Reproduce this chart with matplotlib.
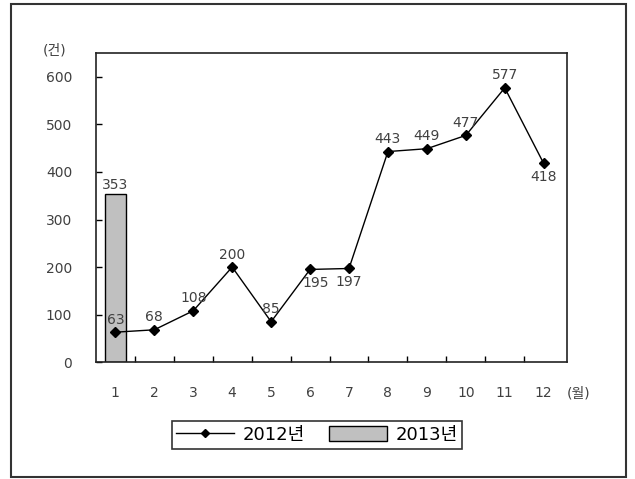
import matplotlib
matplotlib.use("Agg")
import matplotlib.pyplot as plt
from matplotlib.patches import Rectangle
from matplotlib.lines import Line2D
from matplotlib.patches import Patch

plt.rcParams["font.family"] = ["DejaVu Sans", "Noto Sans CJK KR"]

months = [1, 2, 3, 4, 5, 6, 7, 8, 9, 10, 11, 12]
month_labels = ["1", "2", "3", "4", "5", "6", "7", "8", "9", "10", "11", "12"]
counts_2012 = [63, 68, 108, 200, 85, 195, 197, 443, 449, 477, 577, 418]
months_2013 = [1]
counts_2013 = [353]
# labels that sit under their point instead of above
below = {6, 7, 12}

txt = "#404040"

fig = plt.figure(figsize=(6.35, 4.79), dpi=100)
ax = fig.add_axes([0.151, 0.244, 0.742, 0.645])

# outer frame round the whole chart
fig.patches.append(Rectangle((11 / 635, 2 / 479), 615 / 635, 473 / 479,
                             transform=fig.transFigure, fill=False,
                             edgecolor="#333333", linewidth=1.5))

ax.bar(months_2013, counts_2013, width=0.55, color="#c0c0c0",
       edgecolor="black", linewidth=1.0, zorder=2)
for m, v in zip(months_2013, counts_2013):
    ax.annotate(str(v), (m, v), xytext=(0, 2), textcoords="offset points",
                ha="center", va="bottom", fontsize=10, color=txt)

ax.plot(months, counts_2012, color="black", linewidth=1.0, marker="D",
        markersize=5, zorder=3)
for m, v in zip(months, counts_2012):
    if m in below:
        ax.annotate(str(v), (m, v), xytext=(4 if m == 6 else 0, -5),
                    textcoords="offset points", ha="center", va="top",
                    fontsize=10, color=txt)
    else:
        ax.annotate(str(v), (m, v), xytext=(0, 4), textcoords="offset points",
                    ha="center", va="bottom", fontsize=10, color=txt)

ax.set_xlim(0.5, 12.6)
ax.set_ylim(0, 650)
ax.set_yticks([0, 100, 200, 300, 400, 500, 600])
ax.tick_params(axis="y", direction="in", length=4, width=1, labelsize=10,
               labelcolor=txt, pad=17)

# category axis: ticks at the boundaries, labels at the centres
ax.set_xticks([m + 0.5 for m in months[:-1]])
ax.set_xticklabels([])
ax.tick_params(axis="x", direction="in", length=4, width=1)
for m, lab in zip(months, month_labels):
    ax.text(m, -0.1, lab, transform=ax.get_xaxis_transform(), ha="center",
            va="center", fontsize=10, color=txt)
ax.text(12.9, -0.1, "(월)", transform=ax.get_xaxis_transform(),
        ha="center", va="center", fontsize=10, color=txt)
ax.text(-0.088, 1.01, "(건)", transform=ax.transAxes, ha="center",
        va="center", fontsize=10, color=txt)

for s in ax.spines.values():
    s.set_linewidth(1.2)
    s.set_color("#222222")

handles = [
    Line2D([0], [0], color="black", linewidth=1.0, marker="D", markersize=4),
    Patch(facecolor="#c0c0c0", edgecolor="black", linewidth=1.0),
]
leg = fig.legend(handles, ["2012년", "2013년"], loc="center",
                 bbox_to_anchor=(317 / 635, 1 - 435 / 479), ncol=2,
                 fontsize=13, frameon=True, fancybox=False, edgecolor="black",
                 handlelength=3.2, handleheight=0.9, columnspacing=1.3,
                 borderpad=0.25, handletextpad=0.5)
leg.get_frame().set_linewidth(1.2)

fig.savefig("out.png", dpi=100)
